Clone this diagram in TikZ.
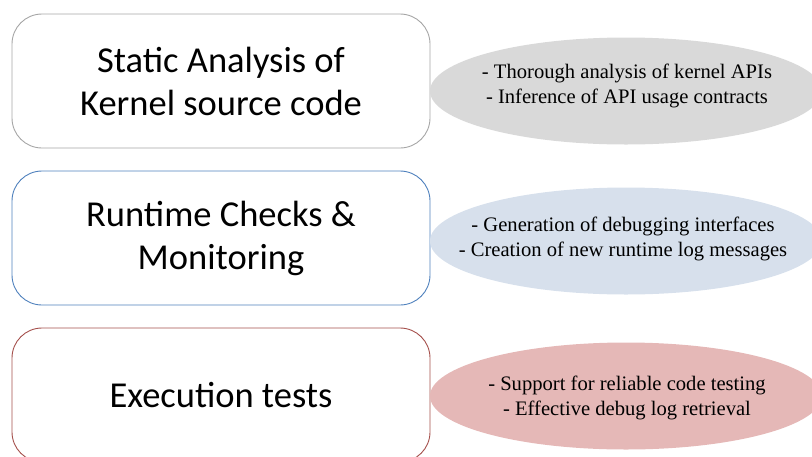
\documentclass[tikz,border=0pt]{standalone}
\usepackage{fontspec}
\setmainfont{Liberation Serif}
\newfontfamily\boxfont{Carlito}
\usetikzlibrary{shapes.geometric}
\definecolor{staticline}{HTML}{A6A6A6}
\definecolor{runline}{HTML}{4F81BD}
\definecolor{execline}{HTML}{A5504C}
\definecolor{staticfill}{HTML}{D9D9D9}
\definecolor{runfill}{HTML}{D7E0EC}
\definecolor{execfill}{HTML}{E5B8B7}
\begin{document}
\begin{tikzpicture}[x=1pt, y=-1pt,
stagebox/.style={draw=#1, line width=0.9pt, fill=white, rounded corners=30pt,
 minimum width=418pt, minimum height=134pt, align=center,
 font=\boxfont\fontsize{36.5}{43}\selectfont},
notes/.style={ellipse, fill=#1, minimum width=392pt, minimum height=107pt,
 inner sep=0pt},
notetext/.style={align=center, font=\fontsize{20.6}{25}\selectfont}
]
\useasboundingbox (0,0) rectangle (812,456);
\clip (0,0) rectangle (812,456);

\node[stagebox=staticline] (static) at (221,81) {Static Analysis of\\Kernel source code};
\node[stagebox=runline] (runtime) at (221,238) {Runtime Checks \&\\Monitoring};
\node[stagebox=execline] (exec) at (221,395) {Execution tests};

\node[notes=staticfill] (staticnotes) at (626,91) {};
\node[notes=runfill] (runnotes) at (626,241) {};
\node[notes=execfill] (execnotes) at (626,396) {};

\node[notetext] (statictext) at (627,86)
 {- Thorough analysis of kernel APIs\\- Inference of API usage contracts};
\node[notetext] (runtext) at (623,239)
 {- Generation of debugging interfaces\\- Creation of new runtime log messages};
\node[notetext] (exectext) at (627,398)
 {- Support for reliable code testing\\- Effective debug log retrieval};

\end{tikzpicture}
\end{document}
